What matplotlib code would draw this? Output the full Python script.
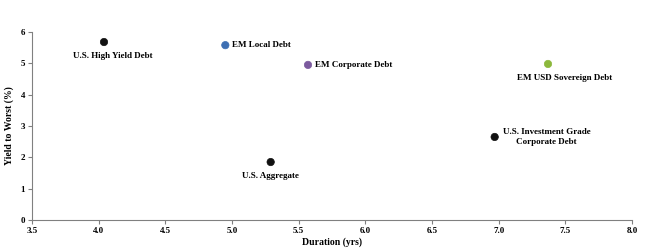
import matplotlib
matplotlib.use("Agg")
import matplotlib.pyplot as plt

# ------------------ Data ------------------

names = ["U.S. High Yield Debt", "EM Local Debt", "EM Corporate Debt",
         "EM USD Sovereign Debt", "U.S. Investment Grade\nCorporate Debt",
         "U.S. Aggregate"]
duration = [4.04, 4.95, 5.57, 7.37, 6.97, 5.29]
ytw = [5.68, 5.58, 4.95, 4.98, 2.65, 1.85]
colors = ["#111111", "#3d6fb3", "#7b5a9e", "#8cb83c", "#111111", "#111111"]

# label placement: (dx, dy) in points, ha, va
label_pos = [
    ((6, -7), "center", "top"),
    ((5, 0), "left", "center"),
    ((5, 0), "left", "center"),
    ((12, -7), "center", "top"),
    ((6, 0), "left", "center"),
    ((0, -7), "center", "top"),
]

# ------------------ Plot ------------------

plt.rcParams["font.family"] = ["Liberation Serif", "DejaVu Serif"]
plt.rcParams["font.weight"] = "bold"

fig = plt.figure(figsize=(6.5, 2.5), dpi=100)
ax = fig.add_axes([32 / 650, 30 / 250, 600 / 650, 188 / 250])

ax.scatter(duration, ytw, s=28, c=colors, edgecolors=colors, linewidths=0.5, zorder=3)

for name, x, y, ((dx, dy), ha, va) in zip(names, duration, ytw, label_pos):
    ax.annotate(name, (x, y), xytext=(dx, dy), textcoords="offset points",
                ha=ha, va=va, fontsize=6.5, fontweight="bold",
                multialignment="center")

ax.set_xlim(3.5, 8.0)
ax.set_ylim(0, 6)
ax.set_xticks([3.5 + 0.5 * i for i in range(10)])
ax.set_xticklabels([f"{3.5 + 0.5 * i:.1f}" for i in range(10)])
ax.set_yticks(range(7))

for s in ["top", "right"]:
    ax.spines[s].set_visible(False)
for s in ["left", "bottom"]:
    ax.spines[s].set_color("#808080")
    ax.spines[s].set_linewidth(0.8)

ax.tick_params(direction="out", length=3, width=0.8, color="#808080",
               labelsize=6.5, pad=2)
ax.set_xlabel("Duration (yrs)", fontsize=7, fontweight="bold", labelpad=2)
ax.set_ylabel("Yield to Worst (%)", fontsize=7, fontweight="bold", labelpad=5)

fig.savefig("out.png", dpi=100)
